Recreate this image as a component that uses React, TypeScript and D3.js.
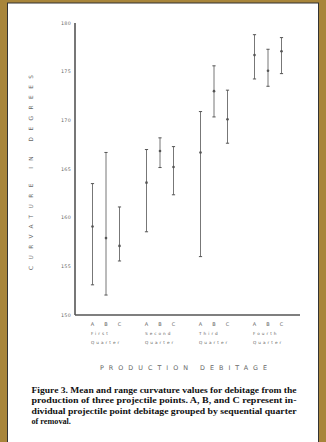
import React from "react";
import * as d3 from "d3";

const quarters = ["First", "Second", "Third", "Fourth"];
const points = ["A", "B", "C"];
// [quarter][point] values in degrees
const meanValues = [
  [159.1, 157.9, 157.1],
  [163.6, 166.85, 165.2],
  [166.7, 173.0, 170.1],
  [176.7, 175.1, 177.1],
];
const maxValues = [
  [163.5, 166.7, 161.1],
  [167.0, 168.2, 167.3],
  [170.9, 175.6, 173.1],
  [178.8, 177.3, 178.5],
];
const minValues = [
  [153.1, 152.05, 155.55],
  [158.55, 165.15, 162.35],
  [156.0, 170.35, 167.65],
  [174.25, 173.5, 174.8],
];
const yTicks = [150, 155, 160, 165, 170, 175, 180];
const captionLines = [
  "Figure 3. Mean and range curvature values for debitage from the",
  "production of three projectile points. A, B, and C represent in-",
  "dividual projectile point debitage grouped by sequential quarter",
  "of removal.",
];

export default function App() {
  const W = 326;
  const H = 442;
  const y = d3.scaleLinear().domain([150, 180]).range([315, 23]);
  const band = d3.scaleBand<string>().domain(quarters).range([79, 295]).padding(0);
  const inner = d3.scalePoint<string>().domain(points).range([-13.5, 13.5]);
  const xOf = (q: string, p: string) => (band(q) as number) + band.bandwidth() / 2 + (inner(p) as number);
  const grey = "#666";

  return (
    <div style={{ position: "absolute", left: 0, top: 0, width: W, height: H }}>
      <svg width={W} height={H} style={{ display: "block" }}>
        <rect x={0} y={0} width={W} height={H} fill="#a8853a" />
        <rect x={7.5} y={3} width={311} height={H} fill="#fff" stroke="#333" strokeWidth={1} />
        {/* axes */}
        <line x1={75} x2={75} y1={y(180)} y2={y(150)} stroke="#555" strokeWidth={1.6} />
        <line x1={75} x2={300} y1={y(150)} y2={y(150)} stroke="#555" strokeWidth={1.6} />
        {yTicks.map((t) => (
          <text key={t} x={71} y={y(t) + 1.7} textAnchor="end" fontSize={4.8} fill="#666"
            fontFamily="DejaVu Sans" letterSpacing={0.3}>{t}</text>
        ))}
        {/* error bars */}
        {quarters.map((q, qi) =>
          points.map((p, pi) => {
            const cx = xOf(q, p);
            const y1 = y(maxValues[qi][pi]);
            const y2 = y(minValues[qi][pi]);
            const ym = y(meanValues[qi][pi]);
            return (
              <g key={q + p}>
                <line x1={cx} x2={cx} y1={y1} y2={y2} stroke="#777" strokeWidth={1} />
                <line x1={cx - 1.6} x2={cx + 1.6} y1={y1} y2={y1} stroke="#555" strokeWidth={1} />
                <line x1={cx - 1.6} x2={cx + 1.6} y1={y2} y2={y2} stroke="#555" strokeWidth={1} />
                <circle cx={cx} cy={ym} r={1.3} fill="#555" />
              </g>
            );
          })
        )}
        {/* category labels */}
        {quarters.map((q) => (
          <g key={q}>
            {points.map((p) => (
              <text key={p} x={xOf(q, p)} y={326} textAnchor="middle" fontSize={5} fill={grey}
                fontFamily="DejaVu Sans">{p}</text>
            ))}
            <text x={xOf(q, "A") - 1.5} y={335} fontSize={4.2} fill={grey} fontFamily="DejaVu Sans"
              letterSpacing={2}>{q}</text>
            <text x={xOf(q, "A") - 1.5} y={344} fontSize={4.2} fill={grey} fontFamily="DejaVu Sans"
              letterSpacing={2}>Quarter</text>
          </g>
        ))}
        <text x={100} y={370} fontSize={6.4} fill={grey} fontFamily="DejaVu Sans" textLength={167}
          lengthAdjust="spacing">PRODUCTION  DEBITAGE</text>
        <text transform="translate(33,172.5) rotate(-90)" textAnchor="middle" fontSize={5.8} fill={grey}
          fontFamily="DejaVu Sans" textLength={195} lengthAdjust="spacing">CURVATURE  IN  DEGREES</text>
        {/* caption */}
        {captionLines.map((line, i) => (
          <text key={i} x={31.5} y={393 + i * 10.3} fontSize={8.2} fontWeight="bold" fill="#111"
            fontFamily="Liberation Serif"
            {...(i < captionLines.length - 1 ? { textLength: 265, lengthAdjust: "spacingAndGlyphs" } : {})}>
            {line}
          </text>
        ))}
      </svg>
    </div>
  );
}
